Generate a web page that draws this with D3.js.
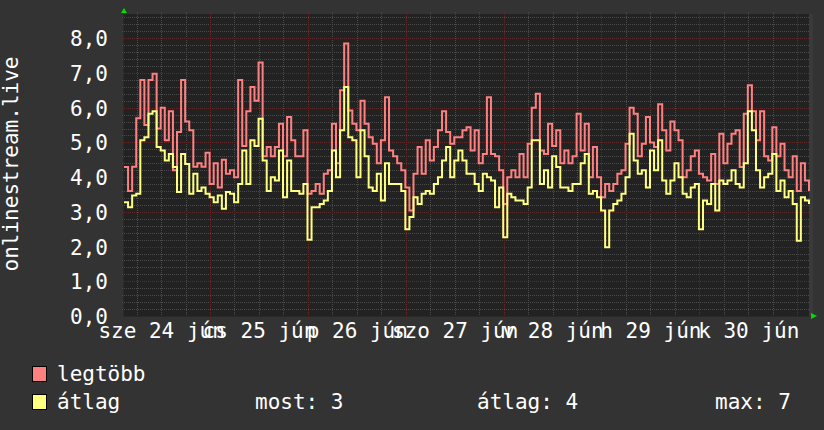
<!DOCTYPE html>
<html><head><meta charset="utf-8">
<script src="https://cdn.jsdelivr.net/npm/d3@7"></script>
<style>
html,body{margin:0;padding:0;background:#333333;}
svg{display:block;}
text{font-family:"DejaVu Sans Mono",monospace;fill:#ffffff;}
</style></head>
<body>
<svg id="c" width="824" height="430"></svg>
<script>
// ---- data ----
const startTime = Date.UTC(2015, 5, 24, 2, 54); // first sample (UTC)
const stepHours = 1;
const seriesNames = ["legtöbb", "átlag"];
const maxValues = [4.29,3.6,4.3,5.7,6.8,5.5,6.8,6.98,5.4,6.0,5.06,5.9,4.2,5.3,6.8,5.6,5.35,4.3,4.4,4.3,4.7,3.8,4.4,3.7,4.5,4.1,4.2,4.0,6.8,4.9,5.9,6.6,6.2,7.3,
4.6,4.87,4.6,4.87,5.54,4.6,5.73,5.06,4.6,4.6,5.35,3.52,3.6,3.8,3.52,4.1,4.2,5.54,4.4,6.5,7.85,5.92,5.54,5.35,6.2,5.54,5.15,4.96,4.4,5.06,6.3,4.77,4.6,
4.4,4.2,3.7,3.04,4.1,4.87,4.1,5.06,4.48,4.87,5.35,5.9,5.3,4.96,5.15,5.15,5.35,5.44,4.77,5.35,4.4,4.67,6.3,4.67,4.6,4.2,3.23,4.0,4.2,4.0,4.67,4.0,4.96,6.0,
6.4,4.77,4.67,5.54,4.9,5.35,4.4,4.77,4.4,4.6,5.83,4.77,5.54,4.0,4.87,4.0,3.42,3.8,3.6,3.8,4.1,4.2,4.96,6.0,5.83,4.6,4.96,5.73,5.0,4.87,6.1,5.35,4.77,5.6,
5.35,5.06,4.0,4.2,4.6,4.77,4.1,4.0,3.9,4.67,3.8,5.25,4.4,4.96,5.25,5.35,4.29,5.83,6.65,5.9,5.06,5.9,4.6,4.48,5.44,4.6,4.96,4.2,4.0,4.6,3.6,4.4,3.9,3.6];
const avgValues = [3.28,3.13,3.47,3.52,5.06,5.15,5.83,5.9,4.87,4.77,4.48,4.67,4.29,3.57,4.67,4.38,3.52,4.1,3.6,3.7,3.52,3.42,3.28,3.47,3.09,3.57,3.52,3.28,3.8,4.77,3.8,5.06,4.9,5.68,
4.48,3.6,4.0,3.9,4.77,3.42,4.48,3.6,3.6,3.52,3.8,2.2,3.13,3.13,3.23,3.33,3.6,4.77,4.0,5.35,6.6,5.15,5.06,4.0,5.35,4.6,3.7,3.6,4.1,3.33,4.4,3.8,3.8,
3.8,3.6,2.5,2.85,3.42,3.23,3.52,3.6,3.52,3.8,4.0,4.48,4.87,4.0,4.48,4.77,4.48,4.1,4.1,3.8,3.6,4.1,4.0,3.9,3.13,3.7,2.27,3.52,3.42,3.33,3.33,3.23,3.7,5.06,
5.06,3.8,4.2,3.7,4.6,4.29,3.7,3.7,3.6,3.8,3.8,4.4,4.67,3.52,3.6,3.42,3.04,1.98,3.04,3.23,3.33,3.52,4.0,5.25,4.48,4.1,4.2,3.7,4.77,4.2,5.06,3.9,3.52,3.9,
4.4,4.0,3.52,3.42,3.7,3.8,2.5,3.33,3.23,3.8,3.04,3.9,3.8,3.9,4.2,3.8,3.7,4.4,5.9,5.35,4.2,3.7,4.0,4.1,4.67,3.6,3.9,3.42,3.6,3.23,2.17,3.42,3.33,3.23];
const dayLabels = ["sze 24 jún","cs 25 jún","p 26 jún","szo 27 jún","v 28 jún","h 29 jún","k 30 jún"];
const yTicks = [0,1,2,3,4,5,6,7,8];
const statLabels = ["most: 3","átlag: 4","max: 7"];
const yTitle = "onlinestream.live";
const colors = ["#ff8080", "#ffff80"];

// ---- layout ----
const svg = d3.select("#c");
const L = 124, R = 809, T = 14, B = 316;
const HOUR = 3600e3;
const endTime = startTime + 168 * HOUR;
const x = d3.scaleUtc().domain([startTime, endTime]).range([L, R]);
const y = d3.scaleLinear().domain([0, 8.7]).range([B, T]);
const fmt = d3.formatLocale({decimal: ",", thousands: " ", grouping: [3], currency: ["", ""]}).format(".1f");

svg.append("rect").attr("x", 0).attr("y", 0).attr("width", 824).attr("height", 430).attr("fill", "#333333");
svg.append("rect").attr("x", L).attr("y", T).attr("width", R - L).attr("height", B - T).attr("fill", "#222222");
svg.append("rect").attr("x", R).attr("y", T).attr("width", 4).attr("height", B - T).attr("fill", "#3a3a3a");

const grid = svg.append("g").attr("shape-rendering", "crispEdges");
// horizontal minor grid
const minorY = d3.range(1, 44).map(i => i * 0.2).filter(v => Math.abs(v - Math.round(v)) > 0.01);
grid.selectAll(".hm").data(minorY).join("line")
  .attr("x1", L - 2).attr("x2", R).attr("y1", d => Math.round(y(d)) + 0.5).attr("y2", d => Math.round(y(d)) + 0.5)
  .attr("stroke", "#4a4a4a").attr("stroke-dasharray", "1,1");
// vertical minor grid (every 6h)
const minorX = d3.utcHour.every(6).range(new Date(startTime), new Date(endTime)).filter(d => d.getUTCHours() !== 0);
grid.selectAll(".vm").data(minorX).join("line")
  .attr("x1", d => Math.round(x(d)) + 0.5).attr("x2", d => Math.round(x(d)) + 0.5).attr("y1", T - 2).attr("y2", B + 2)
  .attr("stroke", "#4a4a4a").attr("stroke-dasharray", "1,1");
// major grid
grid.selectAll(".hM").data(yTicks.filter(v => v > 0)).join("line")
  .attr("x1", L - 2).attr("x2", R).attr("y1", d => Math.round(y(d)) + 0.5).attr("y2", d => Math.round(y(d)) + 0.5)
  .attr("stroke", "#5e2a2a").attr("stroke-dasharray", "1,1");
const majorX = d3.utcDay.range(new Date(startTime), new Date(endTime));
grid.selectAll(".vM").data(majorX).join("line")
  .attr("x1", d => Math.round(x(d)) + 0.5).attr("x2", d => Math.round(x(d)) + 0.5).attr("y1", T - 2).attr("y2", B + 3)
  .attr("stroke", "#5e2a2a").attr("stroke-dasharray", "1,1");

// axis lines
svg.append("line").attr("x1", L - 0.5).attr("x2", L - 0.5).attr("y1", T).attr("y2", B + 1).attr("stroke", "#2a2a2a");
svg.append("line").attr("x1", L).attr("x2", R + 4).attr("y1", B + 0.5).attr("y2", B + 0.5).attr("stroke", "#2a2a2a");

// series
const pts = vals => vals.map((v, i) => [startTime + i * stepHours * HOUR, v]);
const line = d3.line().x(d => x(d[0])).y(d => y(d[1])).curve(d3.curveStepAfter);
[maxValues, avgValues].forEach((vals, k) => {
  svg.append("path").datum(pts(vals)).attr("d", line).attr("fill", "none")
    .attr("stroke", colors[k]).attr("stroke-width", 2).attr("stroke-linejoin", "miter");
});

// y axis
const ya = d3.axisLeft(y).tickValues(yTicks).tickFormat(fmt).tickSize(0).tickPadding(0);
const gy = svg.append("g").attr("transform", `translate(${L - 16},0)`).call(ya);
gy.select(".domain").remove();
gy.selectAll("text").attr("font-family", "DejaVu Sans Mono").attr("font-size", 21).attr("fill", "#fff").attr("dy", "0.36em").attr("x", 0);

// x axis labels at noon
const noons = d3.range(dayLabels.length).map(i => d3.utcHour.offset(majorX[0], -12 + 24 * i));
const xa = d3.axisBottom(x).tickValues(noons).tickFormat((d, i) => dayLabels[i]).tickSize(0).tickPadding(0);
const gx = svg.append("g").attr("transform", `translate(0,${B})`).call(xa);
gx.select(".domain").remove();
gx.selectAll("text").attr("font-family", "DejaVu Sans Mono").attr("font-size", 21).attr("fill", "#fff").attr("dy", null).attr("y", 22);

// y title
svg.append("text").attr("transform", "translate(18,164) rotate(-90)").attr("text-anchor", "middle")
  .attr("font-size", 21).text(yTitle);

// arrows
svg.append("path").attr("d", `M${L - 3},${T - 1} L${L + 3},${T - 1} L${L},${T - 6} Z`).attr("fill", "#00dd00");
svg.append("path").attr("d", `M${R + 2},${B - 3} L${R + 2},${B + 3} L${R + 8},${B} Z`).attr("fill", "#00dd00");

// legend
const lg = svg.append("g");
seriesNames.forEach((n, i) => {
  lg.append("rect").attr("x", 32.5).attr("y", 366.5 + i * 28).attr("width", 14).attr("height", 15)
    .attr("fill", colors[i]).attr("stroke", "#000").attr("stroke-width", 1);
  lg.append("text").attr("x", 57).attr("y", 381 + i * 28).attr("font-size", 21).text(n);
});
const statX = [255, 477, 715];
statLabels.forEach((s, i) => lg.append("text").attr("x", statX[i]).attr("y", 409).attr("font-size", 21).text(s));
</script>
</body></html>
